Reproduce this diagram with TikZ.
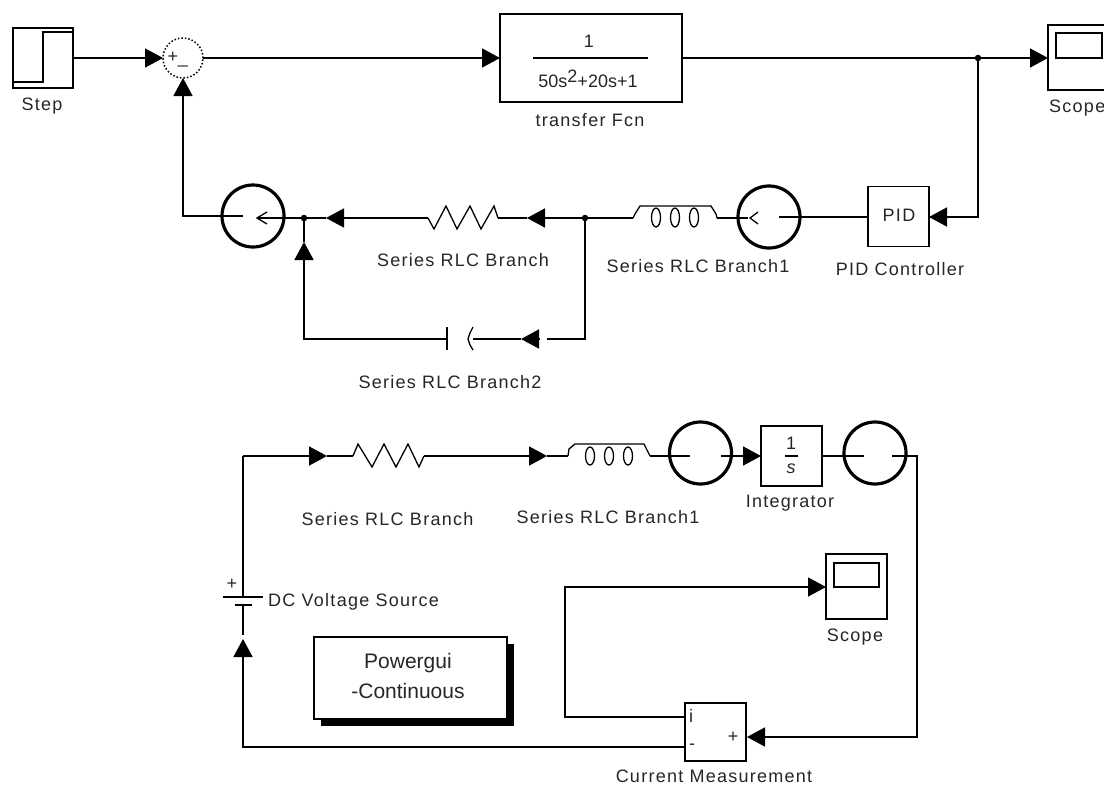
\documentclass[tikz,border=0pt]{standalone}
\usepackage{fontspec}
\setmainfont{Liberation Sans}
\newfontfamily\simfont[LetterSpace=7]{Liberation Sans}
\usetikzlibrary{arrows.meta}
\tikzset{
  wire/.style={line width=1.7pt,line join=miter},
  glyph/.style={line width=1.3pt},
  flow/.style={wire,-{Triangle[length=18pt,width=19pt]}},
  block/.style={draw,line width=1.8pt,rectangle,inner sep=0pt,outer sep=0pt,minimum width=61pt,minimum height=60pt,fill=white},
  meter/.style={draw,line width=3.2pt,circle,inner sep=0pt,outer sep=0pt,minimum size=62pt},
  joint/.style={fill,circle,inner sep=0pt,outer sep=0pt,minimum size=6.5pt},
  lbl/.style={inner sep=0pt,font=\simfont\fontsize{18}{20}\selectfont,text=black!85},
}
\begin{document}
\begin{tikzpicture}[x=1pt,y=-1pt]
    \clip (0,0) rectangle (1104,785);
    % upper loop, blocks
    \node[block,minimum width=60pt] (stepA) at (43,58) {};
    \draw[wire] (13,82)--(43,82)--(43,32)--(73,32);
    \node[lbl] (stepLbl) at (42,106) {Step};
    \node[draw,dotted,line width=1.5pt,circle,inner sep=0pt,outer sep=0pt,minimum size=40pt] (sumA) at (183,58) {};
    \node[lbl] (sumPlus) at (173,57) {+};
    \node[lbl] (sumMinus) at (183,65) {\_};
    \node[block,minimum width=182pt,minimum height=88pt] (tfA) at (591,58) {};
    \node[lbl] (tfNum) at (589,41) {1};
    \draw[glyph,line width=1.7pt] (533,58)--(648,58);
    \node[inner sep=0pt,font=\fontsize{18}{20}\selectfont,text=black!85] (tfDen) at (588,79) {50s\raisebox{5pt}{2}+20s+1};
    \node[lbl] (tfLbl) at (590,120) {transfer Fcn};
    \node[block,minimum width=62pt,minimum height=65pt] (scopeA) at (1079,57.5) {};
    \node[draw,line width=1.8pt,inner sep=0pt,outer sep=0pt,minimum width=46pt,minimum height=25pt] (scopeAScr) at (1079,45.5) {};
    \node[lbl,anchor=west] (scopeALbl) at (1049,108) {Scope};
    \node[joint] (jOut) at (978,58) {};
    \node[block] (pidA) at (898.5,216.5) {};
    \node[lbl] (pidTxt) at (899,215) {PID};
    \node[lbl] (pidLbl) at (900,269) {PID Controller};
    \node[meter] (meterB) at (769,217) {};
    \node[meter] (meterA) at (253,216) {};
    \node[joint] (jRight) at (585,218) {};
    \node[joint] (jLeft) at (304,218) {};
    \node[lbl] (rLbl) at (463,260) {Series RLC Branch};
    \node[lbl] (lLbl) at (698,266) {Series RLC Branch1};
    \node[lbl] (cLbl) at (450,382) {Series RLC Branch2};
    % upper loop, element symbols
    \coordinate (rIn) at (498,218);
    \coordinate (rOut) at (428,218);
    \draw[glyph] (rIn)--(494,206)--(481,229)--(470,206)--(457,229)--(446,206)--(434,229)--(rOut);
    \coordinate (lIn) at (717,218);
    \coordinate (lOut) at (633,218);
    \draw[glyph] (lIn)--(716,214)--(711,206)--(640,206)--(635,214)--(lOut);
    \foreach \xc in {656,675,694}
      \draw[glyph] (\xc,217.5) ellipse (4.5pt and 9.5pt);
    \coordinate (capIn) at (473,339);
    \coordinate (capOut) at (447,339);
    \draw[glyph] (447,327)--(447,350);
    \draw[glyph] (473,327)--(470,333)--(468,339)--(470,345)--(473,350);
    \draw[glyph] (267,212)--(257,218)--(267,224);
    \draw[glyph] (758,212)--(750,218)--(758,224);
    % upper loop, connectors
    \coordinate (sumBack) at (183,216);
    \coordinate (inA) at (243,216);
    \coordinate (outA) at (257,218);
    \coordinate (inB) at (748,218);
    \coordinate (outB) at (779,217);
    \coordinate (turnPid) at (978,217);
    \coordinate (turnCapR) at (585,339);
    \coordinate (turnCapL) at (304,339);
    \draw[flow] (stepA.east)--(sumA.west);
    \draw[flow] (sumA.east)--(tfA.west);
    \draw[wire] (tfA.east)--(jOut);
    \draw[flow] (jOut)--(scopeA.west |- jOut);
    \draw[flow] (jOut)--(turnPid)--(pidA.east |- turnPid);
    \draw[wire] (pidA.west |- outB)--(outB);
    \draw[wire] (inB)--(lIn);
    \draw[wire] (lOut)--(jRight);
    \draw[flow] (jRight)--(527,218);
    \draw[wire] (527,218)--(rIn);
    \draw[flow] (rOut)--(326,218);
    \draw[wire] (326,218)--(jLeft)--(outA);
    \draw[wire] (jRight)--(turnCapR)--(547,339);
    \draw[flow] (539,339)--(521,339);
    \draw[wire] (521,339)--(capIn);
    \draw[flow] (capOut)--(turnCapL)--(304,242);
    \draw[wire] (304,242)--(jLeft);
    \draw[flow] (inA)--(sumBack)--(sumA.south);
    % lower circuit, blocks
    \node[meter] (meterC) at (700.5,453) {};
    \node[meter] (meterD) at (875,453) {};
    \node[block] (intA) at (791.5,456) {};
    \node[lbl] (intNum) at (791,443) {1};
    \draw[glyph] (785,456)--(798,456);
    \node[lbl,font=\simfont\itshape\fontsize{18}{20}\selectfont] (intDen) at (791,469) {s};
    \node[lbl] (intLbl) at (790,503) {Integrator};
    \node[block,minimum height=65pt] (scopeB) at (856.5,586.5) {};
    \node[draw,line width=1.8pt,inner sep=0pt,outer sep=0pt,minimum width=45pt,minimum height=24pt] (scopeBScr) at (856.5,575) {};
    \node[lbl] (scopeBLbl) at (855,637) {Scope};
    \node[block,minimum height=58pt] (curA) at (715.5,732) {};
    \node[lbl] (curI) at (691,716) {i};
    \node[lbl] (curM) at (692,747) {-};
    \node[lbl] (curP) at (733,737) {+};
    \node[lbl] (curLbl) at (714,776) {Current Measurement};
    \fill (321,644) rectangle (514,726);
    \node[block,minimum width=193pt,minimum height=82pt] (guiA) at (410.5,678) {};
    \node[inner sep=0pt,font=\fontsize{21}{24}\selectfont,text=black!85] (guiTop) at (408,663) {Powergui};
    \node[inner sep=0pt,font=\fontsize{21}{24}\selectfont,text=black!85] (guiBot) at (408,691) {-Continuous};
    \node[lbl] (r2Lbl) at (387.5,519) {Series RLC Branch};
    \node[lbl] (l2Lbl) at (608,517) {Series RLC Branch1};
    \node[lbl,anchor=west] (dcLbl) at (268,602) {DC Voltage Source};
    \node[lbl] (dcPlus) at (232,584) {+};
    % lower circuit, element symbols
    \coordinate (r2In) at (353,456);
    \coordinate (r2Out) at (424,456);
    \draw[glyph] (r2In)--(358,444)--(372,467)--(384,444)--(396,467)--(408,444)--(419,467)--(r2Out);
    \coordinate (l2In) at (568,456);
    \coordinate (l2Out) at (650,456);
    \draw[glyph] (l2In)--(569,449)--(575,444)--(644,444)--(650,456);
    \foreach \xc in {590,609,628}
      \draw[glyph] (\xc,456) ellipse (4.5pt and 9pt);
    \draw[glyph] (223,597)--(263,597);
    \draw[glyph] (235,605)--(252,605);
    % lower circuit, connectors
    \coordinate (dcTop) at (243,597);
    \coordinate (dcBot) at (243,605);
    \coordinate (dcGap) at (243,635);
    \coordinate (turnTop) at (243,456);
    \coordinate (turnBot) at (243,747);
    \coordinate (curPort) at (685,747);
    \coordinate (iPort) at (685,717);
    \coordinate (turnIa) at (565,717);
    \coordinate (turnIb) at (565,587);
    \coordinate (turnCa) at (917,456);
    \coordinate (turnCb) at (917,737);
    \draw[wire] (dcTop)--(turnTop);
    \draw[flow] (turnTop)--(327,456);
    \draw[wire] (327,456)--(r2In);
    \draw[wire] (r2Out)--(530,456);
    \draw[flow] (530,456)--(547,456);
    \draw[wire] (547,456)--(l2In);
    \draw[wire] (l2Out)--(690,456);
    \draw[flow] (721,456)--(intA.west);
    \draw[wire] (intA.east)--(864,456);
    \draw[flow] (892,456)--(turnCa)--(turnCb)--(747,737);
    \draw[flow] (iPort)--(turnIa)--(turnIb)--(scopeB.west |- turnIb);
    \draw[wire] (dcBot)--(dcGap);
    \draw[flow] (curPort)--(turnBot)--(243,639);
\end{tikzpicture}
\end{document}
